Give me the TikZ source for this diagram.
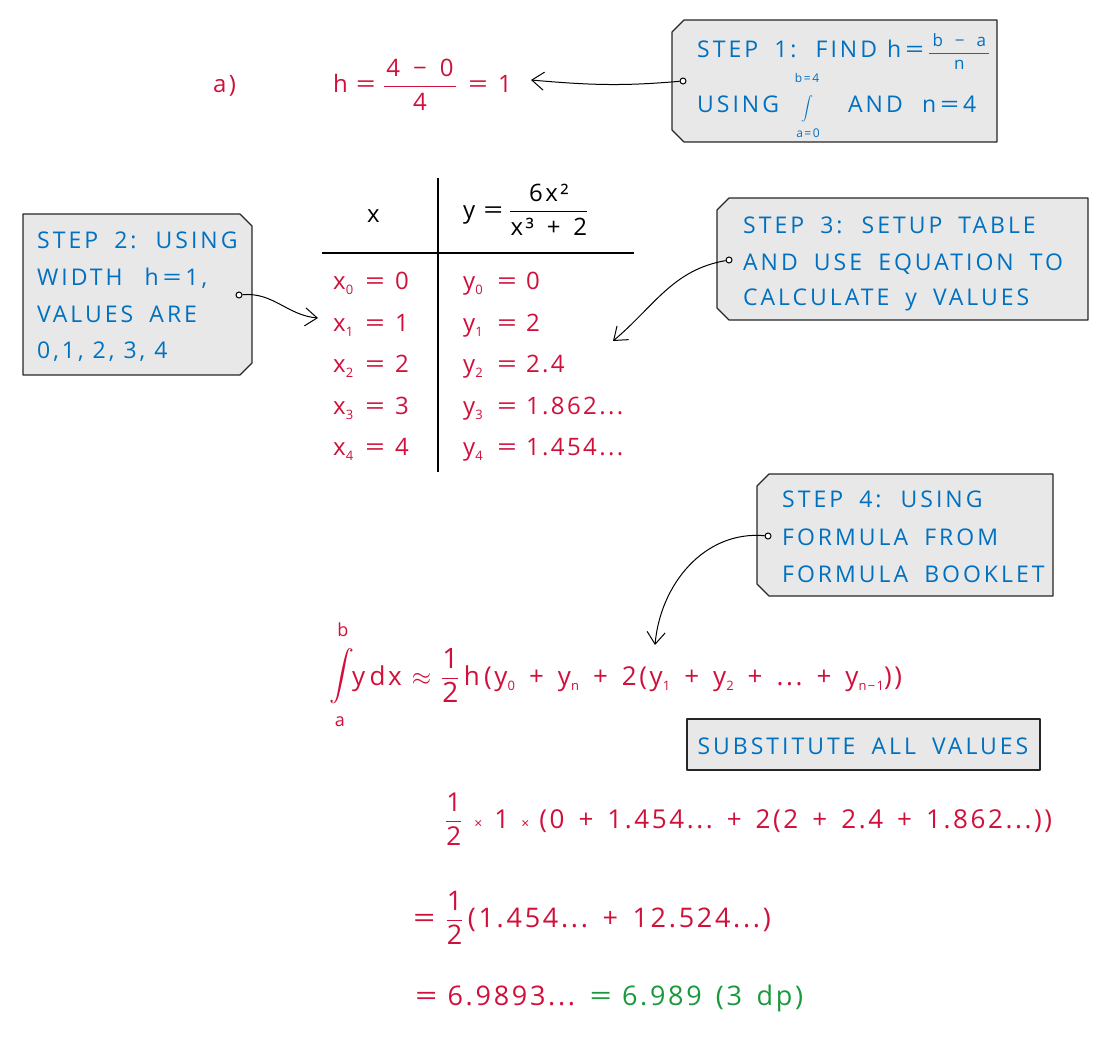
\documentclass[tikz,border=0pt]{standalone}
\usepackage{amsmath}
\usepackage{graphicx}
\usepackage{fontspec}
\setmainfont{Open Sans}
\newfontfamily\hand[LetterSpace=13,WordSpace=1.8]{Open Sans}
\newfontfamily\handm[LetterSpace=10,WordSpace=1.5]{Open Sans}
\usetikzlibrary{arrows.meta}
\definecolor{blueT}{RGB}{0,112,192}
\definecolor{redT}{RGB}{208,16,58}
\definecolor{greenT}{RGB}{24,154,60}
\definecolor{boxgray}{RGB}{232,232,232}
\newcommand\fr[2]{$\genfrac{}{}{1.1pt}{0}{\mbox{#1}}{\mbox{#2}}$}
\newcommand\frw[3]{$\genfrac{}{}{1.1pt}{0}{\makebox[#1]{#2}}{\makebox[#1]{#3}}$}
\newcommand\sub[1]{\raisebox{-0.4ex}{\fontsize{13}{13}\selectfont #1}}
\newcommand\slim[1]{{\fontsize{12}{12}\selectfont #1}}
\newcommand\tms{{\fontsize{14}{14}\selectfont ×}}
\newcommand\eq{\scalebox{1.45}[1]{=}}
\newcommand\dts{...}
\tikzset{
  bt/.style={text=blueT,font=\hand\fontsize{23}{28}\selectfont,anchor=base west,inner sep=0},
  rt/.style={text=redT,font=\handm\fontsize{24}{28}\selectfont,anchor=base west,inner sep=0},
  rtb/.style={text=redT,font=\handm\fontsize{26}{30}\selectfont,anchor=base west,inner sep=0},
  rtc/.style={text=redT,font=\handm\fontsize{27}{31}\selectfont,anchor=base west,inner sep=0},
  kt/.style={text=black,font=\handm\fontsize{24}{28}\selectfont,anchor=base west,inner sep=0},
  tagbox/.style={draw=black!85,fill=boxgray,line width=1.1pt,line join=round},
  pinpt/.style={circle,draw=black,fill=white,line width=1pt,inner sep=0,minimum size=6pt},
  conn/.style={line width=1pt,-{Straight Barb[length=12pt,width=18pt,line width=1pt]}},
  rule/.style={line width=1.4pt}
}
\begin{document}
\begin{tikzpicture}[x=1pt,y=-1pt]
\useasboundingbox (0,0) rectangle (1100,1038);
% ---- boxes
\draw[tagbox] (684,20) -- (997,20) -- (997,142) -- (684,142) -- (672,130) -- (672,32) -- cycle;
\draw[tagbox] (23,214) -- (240,214) -- (252,226) -- (252,363) -- (240,375) -- (23,375) -- cycle;
\draw[tagbox] (729,198) -- (1088,198) -- (1088,320) -- (729,320) -- (717,308) -- (717,210) -- cycle;
\draw[tagbox] (769,474) -- (1053,474) -- (1053,596) -- (769,596) -- (757,584) -- (757,486) -- cycle;
\draw[tagbox] (687,719) rectangle (1040,770);
% ---- step 1
\node[bt] (s1a) at (697,58) {STEP 1: FIND};
\node[bt] (s1h) at (887,58) {h\,\eq\,{\fontsize{17}{20}\selectfont\frw{60pt}{b − a}{n}}};
\node[bt] (s1b) at (697,113) {USING};
\node[text=blueT,inner sep=0,font=\fontsize{13}{15}\selectfont] (s1int) at (807,109) {$\displaystyle\int$};
\node[bt,anchor=base] (s1up) at (807,83) {\slim{b=4}};
\node[bt,anchor=base] (s1lo) at (808,138) {\slim{a=0}};
\node[bt] (s1c) at (848,113) {AND};
\node[bt] (s1d) at (922,113) {n\,\eq\,4};
% ---- step 2
\node[bt] (s2a) at (37,248) {STEP 2: USING};
\node[bt] (s2b) at (37,285) {WIDTH\hspace{22pt}h\,\eq\,1,};
\node[bt] (s2c) at (37,322) {VALUES ARE};
\node[bt] (s2d) at (37,358) {0,1,\hspace{9pt}2,\hspace{9pt}3,\hspace{9pt}4};
% ---- step 3
\node[bt] (s3a) at (743,233) {STEP 3: SETUP TABLE};
\node[bt] (s3b) at (743,270) {AND USE EQUATION TO};
\node[bt] (s3c) at (743,305) {CALCULATE y VALUES};
% ---- step 4
\node[bt] (s4a) at (782,507) {STEP 4: USING};
\node[bt] (s4b) at (782,545) {FORMULA FROM};
\node[bt] (s4c) at (782,582) {FORMULA BOOKLET};
% ---- substitute
\node[bt,anchor=base] (sub) at (863,754) {SUBSTITUTE ALL VALUES};
% ---- h line
\node[rt] (part) at (213,93) {a)};
\node[rt] (heq) at (333,93) {h\hspace{8pt}\eq\hspace{7pt}\frw{72pt}{4 − 0}{4}\hspace{11pt}\eq\hspace{10pt}1};
% ---- table
\coordinate (vt) at (438,178);
\coordinate (vb) at (438,472);
\coordinate (hl) at (322,253);
\coordinate (hr) at (634,253);
\draw[rule] (vt) -- (vb);
\draw[rule] (hl) -- (hr);
\node[kt] (hx) at (367,222) {x};
\node[kt] (hy) at (463,218) {y\hspace{8pt}\eq\hspace{6pt}\frw{77pt}{6x²}{x³ + 2}};
\node[rt] (x0) at (333,289) {\makebox[32pt][l]{x\sub{0}}\eq\hspace{10pt}0};
\node[rt] (y0) at (463,289) {\makebox[34pt][l]{y\sub{0}}\eq\hspace{9pt}0};
\node[rt] (x1) at (333,331) {\makebox[32pt][l]{x\sub{1}}\eq\hspace{10pt}1};
\node[rt] (y1) at (463,331) {\makebox[34pt][l]{y\sub{1}}\eq\hspace{9pt}2};
\node[rt] (x2) at (333,372) {\makebox[32pt][l]{x\sub{2}}\eq\hspace{10pt}2};
\node[rt] (y2) at (463,372) {\makebox[34pt][l]{y\sub{2}}\eq\hspace{9pt}2.4};
\node[rt] (x3) at (333,414) {\makebox[32pt][l]{x\sub{3}}\eq\hspace{10pt}3};
\node[rt] (y3) at (463,414) {\makebox[34pt][l]{y\sub{3}}\eq\hspace{9pt}1.862\dts};
\node[rt] (x4) at (333,455) {\makebox[32pt][l]{x\sub{4}}\eq\hspace{10pt}4};
\node[rt] (y4) at (463,455) {\makebox[34pt][l]{y\sub{4}}\eq\hspace{9pt}1.454\dts};
% ---- formula
\node[text=redT,inner sep=0,font=\fontsize{25}{30}\selectfont] (fint) at (342,676) {$\displaystyle\int$};
\node[rt,anchor=base,font=\handm\fontsize{18}{20}\selectfont] (fb) at (343,636) {b};
\node[rt,anchor=base,font=\handm\fontsize{18}{20}\selectfont] (fa) at (340,726) {a};
\node[rtb] (form) at (352,685) {y\,dx\hspace{10pt}$\approx$\hspace{10pt}{\fontsize{28}{30}\selectfont\fr{1}{2}}\,h\,(y\sub{0} + y\sub{n} + 2(y\sub{1} + y\sub{2} + \dts\ + y\sub{n−1}))};
% ---- working
\node[rtb] (w1) at (445,828) {\fr{1}{2}\hspace{12pt}\tms\hspace{12pt}1\hspace{12pt}\tms\hspace{10pt}(0 + 1.454\dts\ + 2(2 + 2.4 + 1.862\dts))};
\node[rtc] (w2) at (413,927) {\eq\hspace{10pt}\fr{1}{2}\,(1.454\dts\ + 12.524\dts)};
\node[rtc] (w3) at (415,1005) {\eq\hspace{10pt}6.9893\dts\ \textcolor{greenT}{\eq\hspace{10pt}6.989\hspace{14pt}(3 dp)}};
% ---- pins and connectors
\node[pinpt] (p1) at (683,81) {};
\node[pinpt] (p2) at (239,295) {};
\node[pinpt] (p3) at (729,260) {};
\node[pinpt] (p4) at (768,536) {};
\coordinate (t1) at (531,80);
\coordinate (t2) at (318,318);
\coordinate (t3) at (613,341);
\coordinate (t4) at (655,645);
\draw[conn] (p1) to[out=185,in=-5] (t1);
\draw[conn] (p2) to[out=5,in=175] (t2);
\draw[conn] (p3) to[out=190,in=40] (t3);
\draw[conn] (p4) to[out=175,in=85] (t4);
\end{tikzpicture}
\end{document}
